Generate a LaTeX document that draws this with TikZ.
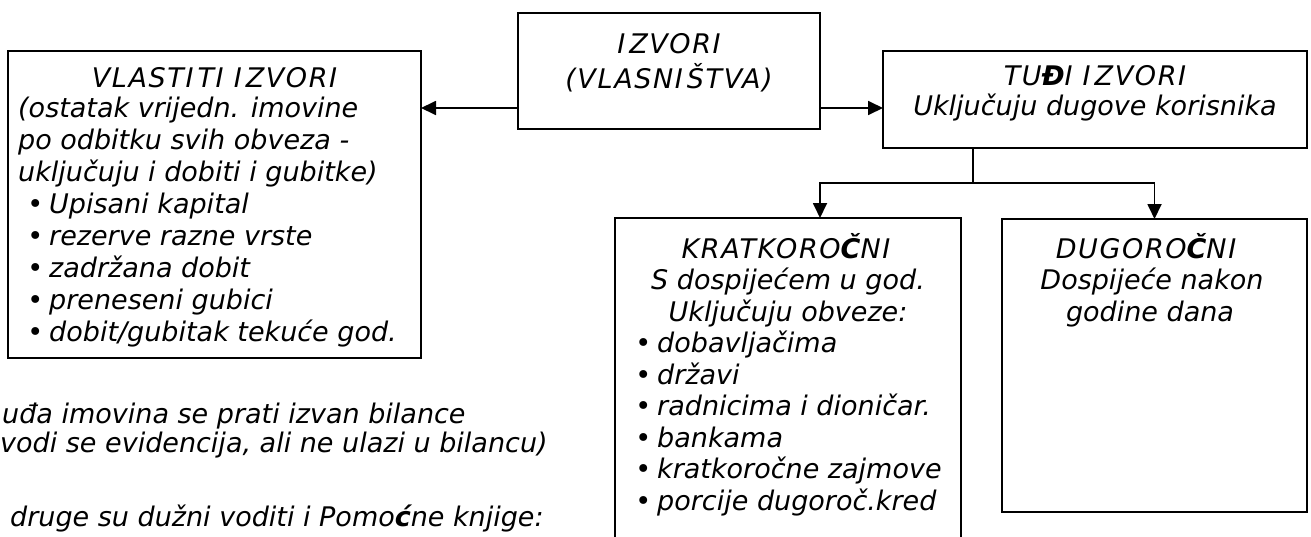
\documentclass[tikz,border=0pt]{standalone}
\usepackage{fontspec}
\setmainfont{DejaVu Sans}
\usetikzlibrary{arrows.meta}
\newcommand\Ik{I\kern4pt}
\newcommand\blt{\makebox[0pt][r]{\upshape •\kern6pt}}
\begin{document}
\begin{tikzpicture}[x=1pt,y=-1pt,
  box/.style={draw, line width=1.8pt, inner sep=0pt, outer sep=0pt},
  txt/.style={inner sep=0pt, font=\fontsize{27}{31.5}\selectfont\itshape},
  caps/.style={txt, anchor=base, font=\fontsize{27}{31.5}\selectfont\itshape\addfontfeature{LetterSpace=6}},
  ctr/.style={txt, anchor=base},
  lft/.style={txt, anchor=base west},
  arr/.style={line width=1.8pt, -{Triangle[length=15pt,width=14pt]}},
  ln/.style={line width=1.8pt}]
\useasboundingbox (0,0) rectangle (1311,536);
\clip (0,0) rectangle (1311,536);
% boxes
\node[box, minimum width=413pt, minimum height=307pt] (vl) at (214.5,204.5) {};
\node[box, minimum width=302pt, minimum height=116pt] (izv) at (669,71) {};
\node[box, minimum width=424pt, minimum height=97pt] (tudi) at (1095,99.5) {};
\node[box, minimum width=346pt, minimum height=330pt] (kr) at (788,383) {};
\node[box, minimum width=305pt, minimum height=293pt] (dugo) at (1154.5,365.5) {};
% connectors
\coordinate (yl) at (0,108);
\draw[arr] (izv.west |- yl) -- (vl.east |- yl);
\draw[arr] (izv.east |- yl) -- (tudi.west |- yl);
\coordinate (j) at (973,183);
\coordinate (kin) at (820,218);
\draw[ln] (tudi.south -| j) -- (j);
\draw[arr] (j) -| (kin);
\draw[arr] (j) -| (dugo.north);
% centre box text
\node[caps] (c1) at (669,53) {\Ik ZVORI};
\node[caps] (c2) at (669,88) {(VLASN\Ik ŠTVA)};
% tudi text
\node[caps] (u1) at (1095,85) {TU\textbf{Đ}I \Ik ZVORI};
\node[ctr] (u2) at (1095,115) {Uključuju dugove korisnika};
% left box text
\node[caps] (v0) at (214.5,87) {VLAST\Ik TI \Ik ZVORI};
\node[lft] (v1) at (18,117) {(ostatak vrijedn. imovine};
\node[lft] (v2) at (18,149) {po odbitku svih obveza -};
\node[lft] (v3) at (18,181) {uključuju i dobiti i gubitke)};
\node[lft] (v4) at (49,213) {\blt Upisani kapital};
\node[lft] (v5) at (49,245) {\blt rezerve razne vrste};
\node[lft] (v6) at (49,277) {\blt zadržana dobit};
\node[lft] (v7) at (49,309) {\blt preneseni gubici};
\node[lft] (v8) at (49,341) {\blt dobit/gubitak tekuće god.};
% kratkorocni text
\node[caps] (k0) at (788,258) {KRATKORO\textbf{Č}N\Ik};
\node[ctr] (k1) at (788,289.5) {S dospijećem u god.};
\node[ctr] (k2) at (788,321) {Uključuju obveze:};
\node[lft] (k3) at (657,352.5) {\blt dobavljačima};
\node[lft] (k4) at (657,384) {\blt državi};
\node[lft] (k5) at (657,415.5) {\blt radnicima i dioničar.};
\node[lft] (k6) at (657,447) {\blt bankama};
\node[lft] (k7) at (657,478.5) {\blt kratkoročne zajmove};
\node[lft] (k8) at (657,510) {\blt porcije dugoroč.kred};
% dugorocni text
\node[caps] (d0) at (1148,258) {DUGORO\textbf{Č}N\Ik};
\node[ctr] (d1) at (1152,289.5) {Dospijeće nakon};
\node[ctr] (d2) at (1150,321) {godine dana};
% bottom notes
\node[lft] (n1) at (2,423) {uđa imovina se prati izvan bilance};
\node[lft] (n2) at (0,452) {vodi se evidencija, ali ne ulazi u bilancu)};
\node[lft] (n3) at (10,526) {druge su dužni voditi i Pomo\textbf{ć}ne knjige:};
\end{tikzpicture}
\end{document}
